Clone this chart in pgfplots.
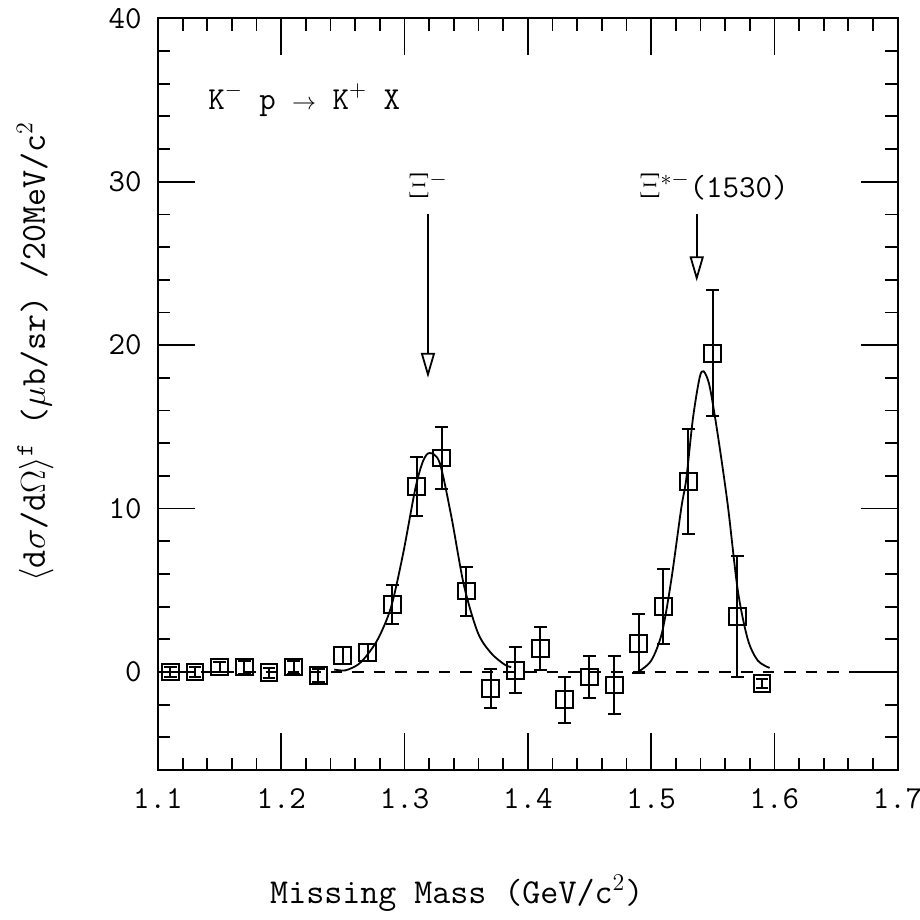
\documentclass[border=0pt]{standalone}
\usepackage{fontspec}
\usepackage{pgfplots}
\pgfplotsset{compat=1.18}
\usetikzlibrary{arrows.meta}
\newcommand\tf{\fontsize{16}{19}\selectfont\ttfamily}
\newcommand\lf{\fontsize{17.5}{20}\selectfont\ttfamily}
\begin{document}
\begin{tikzpicture}
\begin{axis}[
  name=ax, scale only axis, width=370pt, height=376pt,
  xmin=1.1, xmax=1.7, ymin=-6, ymax=40,
  xtick={1.1,1.2,1.3,1.4,1.5,1.6,1.7},
  xticklabels={1.1,1.2,1.3,1.4,1.5,1.6,1.7},
  ytick={0,10,20,30,40}, yticklabels={0,10,20,30,40},
  minor xtick={1.12,1.14,1.16,1.18,1.22,1.24,1.26,1.28,1.32,1.34,1.36,1.38,1.42,1.44,1.46,1.48,1.52,1.54,1.56,1.58,1.62,1.64,1.66,1.68},
  minor ytick={-4,-2,2,4,6,8,12,14,16,18,22,24,26,28,32,34,36,38},
  tick align=inside, major tick length=18.5pt, minor tick length=6.2pt,
  every tick/.style={black, line width=0.9pt},
  axis line style={line width=1pt},
  tick label style={font=\tf},
  xticklabel style={yshift=-5.5pt},
  yticklabel style={xshift=-4.7pt},
  xlabel={Missing Mass (GeV/c$^2$)},
  xlabel style={font=\lf, at={(axis description cs:0.404,-0.1636)}, anchor=center},
  ylabel={$\langle$d$\sigma$/d$\Omega\rangle$\textsuperscript{f} ($\mu$b/sr) /20MeV/c$^2$},
  ylabel style={font=\lf, at={(axis description cs:-0.166,0.5565)}, anchor=center},
  clip=false,
]
% zero line
\addplot[black, line width=1pt, dash pattern=on 5.8pt off 5pt] coordinates {(1.1,0) (1.7,0)};
% fit curves
\addplot[black, line width=0.9pt, smooth] coordinates {
 (1.243,0.15) (1.252,0.1) (1.2622,0.45) (1.2698,1.05) (1.279,2.1) (1.2892,4.0)
 (1.299,7.3) (1.3087,11.2) (1.315,12.9) (1.3204,13.4) (1.3285,12.8) (1.338,9.5)
 (1.3482,5.3) (1.3595,2.4) (1.3703,1.15) (1.3812,0.45) (1.3865,0.3)};
\addplot[black, line width=0.9pt, smooth] coordinates {
 (1.4893,0.0) (1.5001,0.7) (1.5088,2.4) (1.5163,5.6) (1.5244,10.0) (1.5285,11.8)
 (1.5339,15.5) (1.5393,18.0) (1.5426,18.4) (1.5474,17.5) (1.5541,14.5) (1.5622,10.2)
 (1.5703,5.0) (1.5784,2.0) (1.5865,0.7) (1.5961,0.25)};
% data
\addplot[black, only marks, mark=square, mark size=4.2pt, mark options={line width=1pt},
  error bars/.cd, y dir=both, y explicit,
  error bar style={line width=1pt},
  error mark options={rotate=90, mark size=3.2pt, line width=1pt}]
 coordinates {
 (1.11,0.0) +- (0,0.3)
 (1.13,0.0) +- (0,0.3)
 (1.15,0.3) +- (0,0.3)
 (1.17,0.3) +- (0,0.4)
 (1.19,-0.05) +- (0,0.3)
 (1.21,0.3) +- (0,0.4)
 (1.23,-0.2) +- (0,0.4)
 (1.25,1.0) +- (0,0.5)
 (1.27,1.2) +- (0,0.5)
 (1.29,4.15) +- (0,1.2)
 (1.31,11.35) +- (0,1.8)
 (1.33,13.1) +- (0,1.9)
 (1.35,4.95) +- (0,1.5)
 (1.37,-1.0) +- (0,1.2)
 (1.39,0.1) +- (0,1.4)
 (1.41,1.45) +- (0,1.3)
 (1.43,-1.7) +- (0,1.4)
 (1.45,-0.3) +- (0,1.3)
 (1.47,-0.8) +- (0,1.8)
 (1.49,1.75) +- (0,1.8)
 (1.51,4.0) +- (0,2.3)
 (1.53,11.65) +- (0,3.2)
 (1.55,19.5) +- (0,3.85)
 (1.57,3.4) +- (0,3.7)
 (1.59,-0.7) +- (0,0.3)
 };
% annotations
\draw[black, line width=0.9pt, -{Triangle[open, length=12.5pt, width=7pt]}] (axis cs:1.319,28.0) -- (axis cs:1.319,18.0);
\draw[black, line width=0.9pt, -{Triangle[open, length=12.5pt, width=7pt]}] (axis cs:1.537,28.0) -- (axis cs:1.537,23.9);
\node[font=\tf] at (axis cs:1.319,29.8) {$\Xi^{-}$};
\node[font=\tf] at (axis cs:1.551,29.7) {$\Xi^{*-}$(1530)};
\node[font=\tf, anchor=west, inner sep=0pt] at (axis cs:1.1405,35.0) {K$^-$ p {\fontsize{12}{12}\selectfont$\rightarrow$} K$^+$ X};
\end{axis}
\pgfresetboundingbox
\path ([shift={(-79pt,-75pt)}]ax.south west) rectangle ([shift={(11pt,9.15pt)}]ax.north east);
\end{tikzpicture}
\end{document}
